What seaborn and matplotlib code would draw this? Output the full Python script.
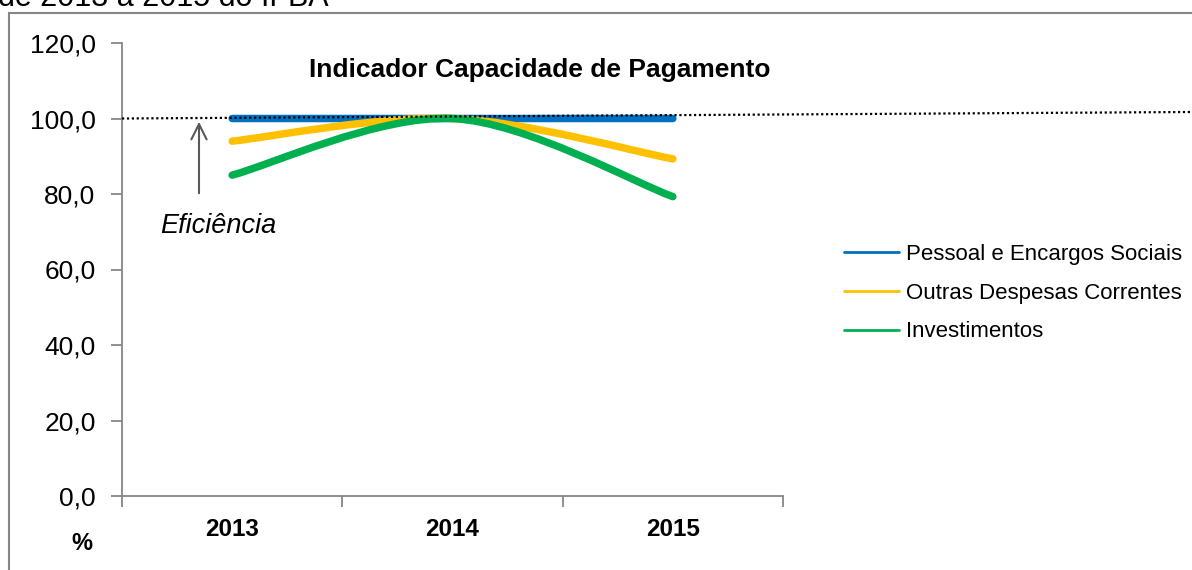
import numpy as np
import pandas as pd
import seaborn as sns
import matplotlib.pyplot as plt
from matplotlib.path import Path
from matplotlib.patches import PathPatch, Rectangle
from matplotlib.lines import Line2D

# dados
anos = ['2013', '2014', '2015']
pessoal = [100.0, 100.0, 100.0]
outras = [94.0, 100.0, 89.3]
investimentos = [85.0, 100.0, 79.3]
series = ['Pessoal e Encargos Sociais', 'Outras Despesas Correntes', 'Investimentos']
cores = ['#0070C0', '#FFC000', '#00B050']

df = pd.DataFrame({
    'ano': anos * 3,
    'pos': list(range(len(anos))) * 3,
    'valor': pessoal + outras + investimentos,
    'serie': [s for s in series for _ in anos],
})

sns.set_style('white')
plt.rcParams['font.family'] = ['Liberation Sans', 'DejaVu Sans']
plt.rcParams['text.color'] = 'black'
plt.rcParams['xtick.color'] = 'black'
plt.rcParams['ytick.color'] = 'black'

fig = plt.figure(figsize=(11.92, 5.70), dpi=100)
W, H = 1192, 570
ax = fig.add_axes([122 / W, 1 - 496 / H, (783 - 122) / W, (496 - 43) / H])

sns.lineplot(data=df, x='pos', y='valor', hue='serie', palette=cores,
             legend=False, ax=ax)


def suave(xs, ys):
    # curva suavizada tipo Excel (Bezier a partir dos pontos)
    p = np.column_stack([xs, ys])
    n = len(p)
    verts = [p[0]]
    codes = [Path.MOVETO]
    for i in range(n - 1):
        a = p[i - 1] if i > 0 else p[i]
        b = p[i + 2] if i + 2 < n else p[i + 1]
        c1 = p[i] + (p[i + 1] - a) / 6
        c2 = p[i + 1] - (b - p[i]) / 6
        verts += [c1, c2, p[i + 1]]
        codes += [Path.CURVE4] * 3
    return Path(verts, codes)


linhas = list(ax.lines)
for ln, cor in zip(linhas, cores):
    xs, ys = ln.get_xdata(), ln.get_ydata()
    ln.remove()
    ax.add_patch(PathPatch(suave(xs, ys), fill=False, edgecolor=cor,
                           lw=5.4, capstyle='round', joinstyle='round', zorder=3))

ax.set_xlim(-0.5, 2.5)
ax.set_ylim(0, 120)
ax.set_yticks(np.arange(0, 121, 20))
ax.set_yticklabels([f'{v:.1f}'.replace('.', ',') for v in np.arange(0, 121, 20)],
                   fontsize=19)
ax.set_xticks([-0.5, 0.5, 1.5, 2.5])
ax.set_xticklabels([])
for i, a in enumerate(anos):
    fig.text(ax.transData.transform((i, 0))[0] / W, 1 - 530 / H, a, ha='center',
             va='center', fontsize=17.5, fontweight='bold')
ax.set_xlabel('')
ax.set_ylabel('')

cinza = '#868686'
for s in ['top', 'right']:
    ax.spines[s].set_visible(False)
for s in ['left', 'bottom']:
    ax.spines[s].set_color(cinza)
    ax.spines[s].set_linewidth(1.3)
ax.tick_params(axis='both', length=8, width=1.3, color=cinza, direction='out',
               left=True, bottom=True)
ax.tick_params(axis='y', pad=11)

# linha pontilhada de eficiencia
ax.add_line(Line2D([122 / W, 1190 / W], [1 - 118.5 / H, 1 - 112 / H],
                   transform=fig.transFigure, clip_on=False,
                   color='black', lw=1.6, ls=(0, (1, 1.2)), zorder=4))

ax.annotate('', xy=(199 / W, 1 - 119 / H), xytext=(199 / W, 1 - 196 / H),
            xycoords='figure fraction', textcoords='figure fraction',
            arrowprops=dict(arrowstyle='->,head_length=1.1,head_width=0.55',
                            color='#595959', lw=1.5))
fig.text(160 / W, 1 - 226 / H, 'Eficiência', fontsize=19.5, style='italic',
         ha='left', va='center')

fig.text(540 / W, 1 - 70 / H, 'Indicador Capacidade de Pagamento', fontsize=19,
         fontweight='bold', ha='center', va='center')
fig.text(82 / W, 1 - 543 / H, '%', fontsize=17, fontweight='bold', ha='center',
         va='center')

# moldura e titulo cortado
fig.patches.append(Rectangle((9 / W, -0.1), 1.2, 1 - 13 / H + 0.1,
                             transform=fig.transFigure, fill=False,
                             edgecolor=cinza, lw=1.5, zorder=0))
fig.text(-2 / W, 1 - 6 / H, 'de 2013 a 2015 do IFBA', fontsize=22, ha='left',
         va='baseline')

handles = [Line2D([], [], color=c, lw=2) for c in cores]
fig.legend(handles, series, loc='center left', bbox_to_anchor=(835 / W, 1 - 293 / H),
           frameon=False, fontsize=16, handlelength=2.5, handletextpad=0.3,
           labelspacing=0.8, borderaxespad=0)

fig.savefig('out.png', dpi=100)
